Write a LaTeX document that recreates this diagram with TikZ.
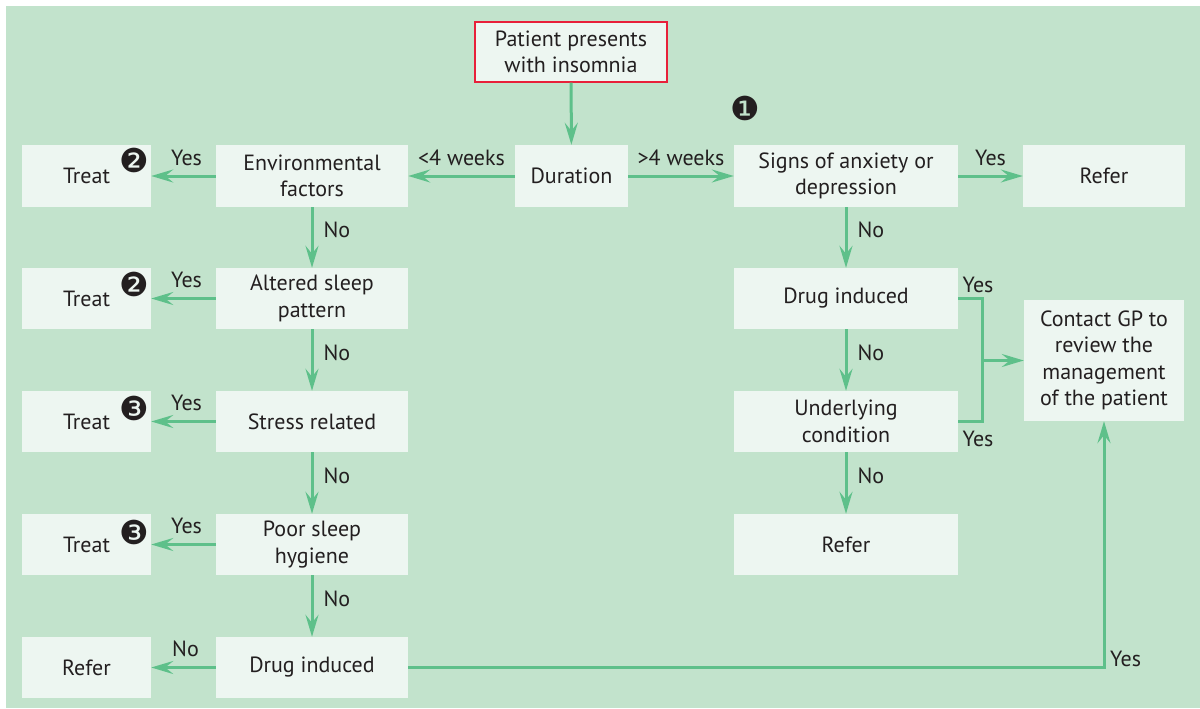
\documentclass[tikz,border=0pt]{standalone}
\usepackage{fontspec}
\setmainfont{PT Sans}
\newfontfamily\dingfont{DejaVu Sans}
\usetikzlibrary{arrows.meta}
\definecolor{panel}{HTML}{C2E3CC}
\definecolor{boxfill}{HTML}{EDF6F1}
\definecolor{flow}{HTML}{5EC08A}
\definecolor{alert}{HTML}{E8203A}
\definecolor{ink}{HTML}{231F20}
\begin{document}
\begin{tikzpicture}[x=1pt,y=-1pt,
  every node/.style={text=ink,font=\fontsize{22}{26.5}\selectfont},
  box/.style={fill=boxfill,draw=none,inner sep=0pt,align=center,minimum height=61pt},
  lbl/.style={inner sep=0pt},
  note/.style={inner sep=0pt,font=\dingfont\fontsize{33}{33}\selectfont},
  link/.style={draw=flow,line width=3pt,-{Stealth[length=22pt,width=13pt,inset=8pt]}},
  wire/.style={draw=flow,line width=3pt},
  down/.style={lbl,pos=0.38,right=10pt}]
\useasboundingbox (0,0) rectangle (1200,709);
\fill[white] (0,0) rectangle (1200,709);
\fill[panel] (6,6) rectangle (1200,708);

% start
\node[box,draw=alert,line width=1.2pt,minimum width=192pt,minimum height=60pt] (pat) at (571,52) {Patient presents\\with insomnia};
\node[box,minimum width=113pt,minimum height=62pt] (dur) at (571.5,176) {Duration};

% short duration branch
\node[box,minimum width=129pt,minimum height=62pt] (t1) at (86.5,176) {Treat};
\node[box,minimum width=192pt,minimum height=62pt] (env) at (312,176) {Environmental\\factors};
\node[box,minimum width=129pt] (t2) at (86.5,298.5) {Treat};
\node[box,minimum width=192pt] (alt) at (312,298.5) {Altered sleep\\pattern};
\node[box,minimum width=129pt] (t3) at (86.5,421.5) {Treat};
\node[box,minimum width=192pt] (str) at (312,421.5) {Stress related};
\node[box,minimum width=129pt] (t4) at (86.5,544.5) {Treat};
\node[box,minimum width=192pt] (hyg) at (312,544.5) {Poor sleep\\hygiene};
\node[box,minimum width=129pt] (ref2) at (86.5,667.5) {Refer};
\node[box,minimum width=192pt] (di1) at (312,667.5) {Drug induced};

% long duration branch
\node[box,minimum width=224pt,minimum height=62pt] (sig) at (846,176) {Signs of anxiety or\\depression};
\node[box,minimum width=162pt,minimum height=62pt] (ref1) at (1104,176) {Refer};
\node[box,minimum width=224pt] (di2) at (846,298.5) {Drug induced};
\node[box,minimum width=224pt] (und) at (846,421.5) {Underlying\\condition};
\node[box,minimum width=224pt] (ref3) at (846,544.5) {Refer};
\node[box,minimum width=160pt,minimum height=121pt] (gp) at (1104,360.5) {Contact GP to\\review the\\management\\of the patient};

% numbered notes
\node[note] (m1) at (745,108) {❶};
\node[note] (m2a) at (134,160) {❷};
\node[note] (m2b) at (134,284) {❷};
\node[note] (m3a) at (134,408) {❸};
\node[note] (m3b) at (134,532) {❸};

% connectors
\draw[link] (pat) -- (dur);
\draw[link] (dur) -- (env) node[lbl,midway,above=9pt] {<4 weeks};
\draw[link] (dur) -- (sig) node[lbl,midway,above=9pt] {>4 weeks};
\draw[link] (sig) -- (ref1) node[lbl,midway,above=9pt] {Yes};

\draw[link] (env) -- (t1) node[lbl,midway,above=9pt,xshift=3pt] {Yes};
\draw[link] (alt) -- (t2) node[lbl,midway,above=9pt,xshift=3pt] {Yes};
\draw[link] (str) -- (t3) node[lbl,midway,above=9pt,xshift=3pt] {Yes};
\draw[link] (hyg) -- (t4) node[lbl,midway,above=9pt,xshift=3pt] {Yes};
\draw[link] (di1) -- (ref2) node[lbl,midway,above=9pt,xshift=2pt] {No};

\draw[link] (env) -- (alt) node[down] {No};
\draw[link] (alt) -- (str) node[down] {No};
\draw[link] (str) -- (hyg) node[down] {No};
\draw[link] (hyg) -- (di1) node[down] {No};

\draw[link] (sig) -- (di2) node[down] {No};
\draw[link] (di2) -- (und) node[down] {No};
\draw[link] (und) -- (ref3) node[down] {No};

% both "Yes" answers join and lead to the GP
\coordinate (jtop) at (982,298.5);
\coordinate (jbot) at (982,421.5);
\coordinate (jmid) at (982,360.5);
\draw[wire] (di2.east) -- (jtop) -- (jbot) -- (und.east);
\node[lbl] (y1) at (978,285) {Yes};
\node[lbl] (y2) at (978,439) {Yes};
\draw[link] (jmid) -- (gp);

\coordinate (corner) at (gp.south |- di1.east);
\draw[link] (di1.east) -- (corner) -- (gp.south);
\node[lbl,anchor=south west] (y3) at ([xshift=6pt,yshift=1pt]corner) {Yes};
\end{tikzpicture}
\end{document}
